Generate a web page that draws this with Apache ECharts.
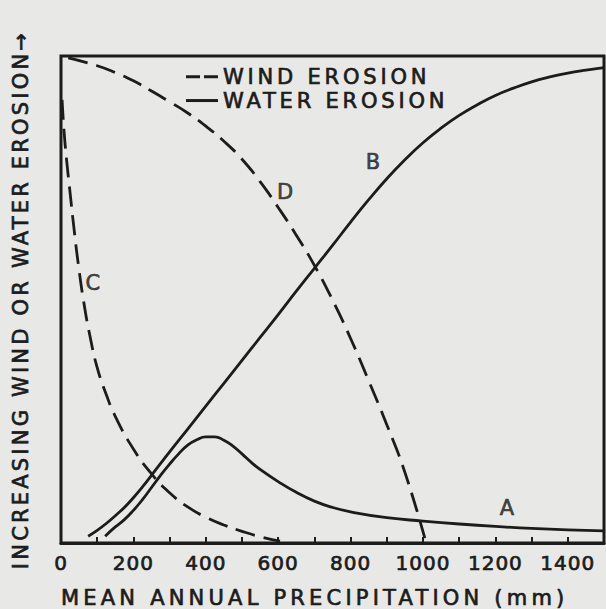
<!DOCTYPE html>
<html>
<head>
<meta charset="utf-8">
<script src="https://cdn.jsdelivr.net/npm/echarts@6/dist/echarts.min.js"></script>
<style>
  html, body { margin: 0; padding: 0; background: #e8e8e6; }
  #chart { width: 606px; height: 609px; }
</style>
</head>
<body>
<div id="chart"></div>
<script>
// Mean annual precipitation (mm) and relative erosion (0-100) for each curve
// A: water erosion, hump peaking near 400 mm
const precipA = [122, 150, 175, 200, 225, 250, 275, 300, 325, 350, 375, 400, 425, 450, 475, 500, 525, 550, 600, 650, 700, 750, 800, 900, 1000, 1100, 1200, 1300, 1400, 1500];
const erosionA = [1.4, 3.3, 4.8, 6.7, 8.9, 11.4, 13.9, 16.2, 18.3, 20.1, 21.2, 21.8, 21.8, 21.1, 19.9, 18.3, 16.6, 15.1, 12.6, 10.4, 8.6, 7.3, 6.4, 5.2, 4.5, 3.9, 3.4, 3.0, 2.7, 2.5];

// B: water erosion, rising S-curve
const precipB = [75, 100, 125, 150, 175, 200, 225, 250, 300, 350, 400, 450, 500, 550, 600, 650, 700, 750, 800, 850, 900, 950, 1000, 1050, 1100, 1150, 1200, 1250, 1300, 1350, 1400, 1450, 1500];
const erosionB = [1.4, 2.6, 4.0, 5.6, 7.3, 9.3, 11.5, 13.9, 18.7, 23.4, 28.1, 32.8, 37.5, 42.2, 46.9, 51.7, 56.4, 61.1, 65.9, 70.5, 74.8, 78.7, 82.2, 85.2, 87.8, 90.0, 91.9, 93.4, 94.7, 95.7, 96.5, 97.1, 97.6];

// C: wind erosion, steep decay
const precipC = [3, 8, 15, 25, 36, 50, 65, 80, 100, 125, 150, 200, 250, 300, 350, 400, 450, 500, 550, 605];
const erosionC = [91.0, 85.0, 79.0, 72.0, 64.5, 56.0, 48.5, 42.5, 36.0, 30.5, 26.0, 19.3, 14.2, 10.3, 7.4, 5.3, 3.7, 2.4, 1.3, 0.4];

// D: wind erosion, slow then sharp decline
const precipD = [20, 100, 150, 200, 250, 300, 350, 400, 450, 500, 550, 600, 650, 700, 750, 800, 850, 900, 950, 1005];
const erosionD = [99.6, 98.0, 96.6, 94.9, 92.8, 90.6, 88.3, 85.6, 82.5, 78.8, 74.2, 68.9, 63.2, 57.0, 49.9, 42.0, 33.3, 24.3, 14.5, 1.0];

// Curve letters and where they sit
const curveNames = ['A', 'B', 'C', 'D'];
const namePrecip = [1232, 862, 88, 619];
const nameErosion = [7.2, 78.2, 53.4, 72.1];

const xTickLabels = [0, 200, 400, 600, 800, 1000, 1200, 1400];
const legendNames = ['WIND EROSION', 'WATER EROSION'];
const xTitle = 'MEAN ANNUAL PRECIPITATION (mm)';
const yTitle = 'INCREASING WIND OR WATER EROSION→';

const ink = '#1c1c1c';
const font = 'DejaVu Sans';
const dash = [20, 9];

// Lettering weight: a thin outline in the ink colour thickens the strokes
const letter = (size) => ({
  fontFamily: font, fontSize: size, color: ink,
  textBorderColor: ink, textBorderWidth: 0.7
});

const zip = (xs, ys) => xs.map((x, i) => [x, ys[i]]);

function curve(name, xs, ys, type) {
  return {
    name: name,
    type: 'line',
    data: zip(xs, ys),
    smooth: 0.5,
    symbol: 'none',
    silent: true,
    lineStyle: { color: ink, width: 2.8, type: type, cap: 'butt' },
    z: 3
  };
}

const chart = echarts.init(document.getElementById('chart'), null, { renderer: 'svg' });

chart.setOption({
  backgroundColor: '#e8e8e6',
  animation: false,
  title: {
    text: xTitle,
    left: 61,
    top: 588,
    padding: 0,
    textStyle: Object.assign(letter(21), { fontWeight: 'normal', lineHeight: 20 })
  },
  legend: {
    data: [
      { name: legendNames[0], icon: 'path://M0,0H14V3H0Z M18,0H32V3H18Z' },
      { name: legendNames[1], icon: 'path://M0,0H32V3H0Z' }
    ],
    orient: 'vertical',
    left: 186,
    top: 66,
    padding: 0,
    itemWidth: 32,
    itemHeight: 3,
    itemGap: 2,
    selectedMode: false,
    textStyle: Object.assign(letter(21), { lineHeight: 21, padding: [0, 0, 0, 0] })
  },
  grid: {
    left: 61, right: 2, top: 56, bottom: 66,
    show: true,
    borderColor: ink,
    borderWidth: 3,
    backgroundColor: 'transparent'
  },
  xAxis: {
    type: 'value',
    min: 0,
    max: 1500,
    interval: 100,
    axisLine: { show: true, lineStyle: { color: ink, width: 3 } },
    axisTick: { show: true, inside: true, length: 6, lineStyle: { color: ink, width: 2 } },
    splitLine: { show: false },
    axisLabel: Object.assign(letter(20), {
      margin: 10,
      showMaxLabel: false,
      formatter: v => xTickLabels.includes(v) ? String(v) : ''
    })
  },
  yAxis: {
    type: 'value',
    min: 0,
    max: 100,
    name: yTitle,
    nameLocation: 'middle',
    nameRotate: 90,
    nameGap: 30,
    nameTextStyle: letter(21),
    axisLine: { show: false },
    axisTick: { show: false },
    axisLabel: { show: false },
    splitLine: { show: false }
  },
  series: [
    curve('A', precipA, erosionA, 'solid'),
    curve('B', precipB, erosionB, 'solid'),
    curve('C', precipC, erosionC, dash),
    curve('D', precipD, erosionD, dash),
    {
      name: legendNames[0], type: 'line', data: [], symbol: 'none',
      itemStyle: { color: ink }, lineStyle: { color: ink, type: dash }
    },
    {
      name: legendNames[1], type: 'line', data: [], symbol: 'none',
      itemStyle: { color: ink }, lineStyle: { color: ink }
    },
    {
      name: 'curve letters',
      type: 'scatter',
      silent: true,
      symbolSize: 0,
      data: curveNames.map((n, i) => ({ name: n, value: [namePrecip[i], nameErosion[i]] })),
      label: Object.assign(letter(21), { show: true, position: 'inside', formatter: '{b}' }),
      z: 4
    }
  ]
});

// Spaced-out lettering, set per text once the SVG is drawn
function spacingFor(s) {
  if (s === xTitle) return '4.2px';
  if (s === yTitle) return '3.2px';
  if (legendNames.includes(s)) return '3.8px';
  if (/^\d+$/.test(s)) return '1px';
  return '0px';
}
function spaceLetters() {
  document.querySelectorAll('#chart text').forEach(t => {
    t.style.letterSpacing = spacingFor(t.textContent);
  });
}
chart.on('finished', spaceLetters);
spaceLetters();
</script>
</body>
</html>
